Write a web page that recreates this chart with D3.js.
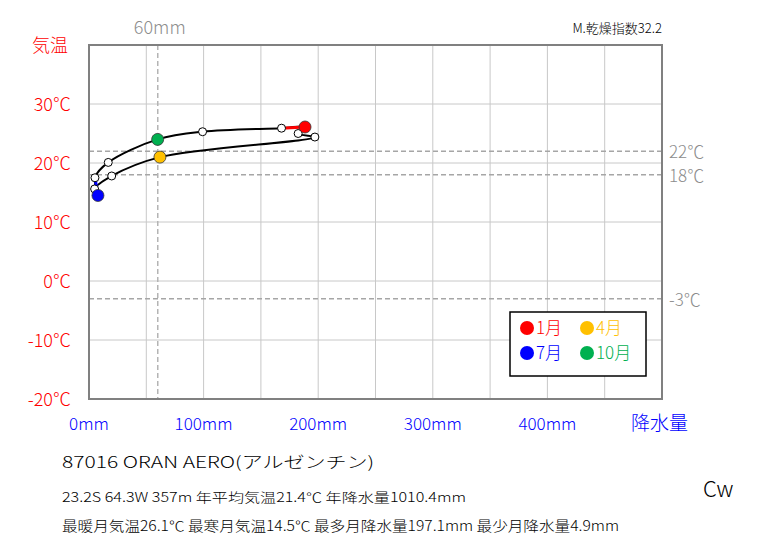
<!DOCTYPE html>
<html><head><meta charset="utf-8">
<script src="https://cdn.jsdelivr.net/npm/d3@7/dist/d3.min.js"></script>
<style>
html,body{margin:0;padding:0;background:#fff;}
svg{display:block;}
text{font-family:"Noto Sans CJK JP","Liberation Sans",sans-serif;font-weight:300;}
</style></head>
<body>
<svg id="c" width="763" height="545"></svg>
<script>
// ---- data ----
const months = ["1月","2月","3月","4月","5月","6月","7月","8月","9月","10月","11月","12月"];
const precip = [188.5, 182.5, 197.1, 61.9, 19.8, 4.9, 7.8, 5.2, 16.8, 59.9, 99.1, 168.0];
const temp   = [26.1, 25.0, 24.4, 21.0, 17.8, 15.6, 14.5, 17.5, 20.1, 24.0, 25.3, 25.9];
const xTicks = [0, 100, 200, 300, 400];
const xTickLabels = ["0mm","100mm","200mm","300mm","400mm"];
const xGrid = [50,100,150,200,250,300,350,400,450];
const yTicks = [30, 20, 10, 0, -10, -20];
const yTickLabels = ["30℃","20℃","10℃","0℃","-10℃","-20℃"];
const yGrid = [30, 20, 10, 0, -10];
const refTemps = [22, 18, -3];
const refTempLabels = ["22℃","18℃","-3℃"];
const refPrecip = 60;
const highlight = [{m:0,label:"1月",color:"#ff0000"},{m:3,label:"4月",color:"#ffc000"},
                   {m:6,label:"7月",color:"#0000ff"},{m:9,label:"10月",color:"#00b050"}];

const svg = d3.select("#c");
const x = d3.scaleLinear().domain([0,500]).range([89,662]);
const y = d3.scaleLinear().domain([-20,40]).range([399,45]);

// grid
svg.append("g").selectAll("line").data(xGrid).join("line")
  .attr("x1",d=>x(d)).attr("x2",d=>x(d)).attr("y1",y(40)).attr("y2",y(-20))
  .attr("stroke","#c8c8c8").attr("stroke-width",1);
svg.append("g").selectAll("line").data(yGrid).join("line")
  .attr("x1",x(0)).attr("x2",x(500)).attr("y1",d=>y(d)).attr("y2",d=>y(d))
  .attr("stroke","#c8c8c8").attr("stroke-width",1);

// reference dashed lines
svg.append("g").selectAll("line").data(refTemps).join("line")
  .attr("x1",x(0)).attr("x2",x(500)).attr("y1",d=>y(d)).attr("y2",d=>y(d))
  .attr("stroke","#a6a6a6").attr("stroke-width",1.5).attr("stroke-dasharray","5,3");
svg.append("line").attr("x1",x(refPrecip)).attr("x2",x(refPrecip)).attr("y1",y(40)).attr("y2",y(-20))
  .attr("stroke","#b4b4b4").attr("stroke-width",1.5).attr("stroke-dasharray","5,3");

// border
svg.append("rect").attr("x",x(0)).attr("y",y(40)).attr("width",x(500)-x(0)).attr("height",y(-20)-y(40))
  .attr("fill","none").attr("stroke","#808080").attr("stroke-width",2);

// labels
svg.append("text").attr("x",x(refPrecip)+2).attr("y",34).attr("text-anchor","middle")
  .attr("font-size",18).attr("fill","#8c8c8c").text(refPrecip+"mm");
svg.append("g").selectAll("text").data(refTemps).join("text")
  .attr("x",669).attr("y",d=>y(d)+7).attr("font-size",17).attr("fill","#8c8c8c")
  .text((d,i)=>refTempLabels[i]);
svg.append("g").selectAll("text").data(yTicks).join("text")
  .attr("x",71).attr("y",d=>y(d)+7).attr("text-anchor","end").attr("font-size",18).attr("fill","#ff0000")
  .text((d,i)=>yTickLabels[i]);
svg.append("text").attr("x",32).attr("y",52).attr("font-size",18).attr("fill","#ff0000").text("気温");
svg.append("g").selectAll("text").data(xTicks).join("text")
  .attr("x",d=>x(d)).attr("y",430).attr("text-anchor","middle").attr("font-size",17).attr("fill","#0000ff")
  .text((d,i)=>xTickLabels[i]);
svg.append("text").attr("x",631).attr("y",430).attr("font-size",19).attr("fill","#0000ff").text("降水量");
svg.append("text").attr("x",662).attr("y",33).attr("text-anchor","end").attr("font-size",13).attr("fill","#000").text("M.乾燥指数32.2");

// climograph
const pts = months.map((m,i)=>[x(precip[i]), y(temp[i])]);
svg.append("path").attr("d", d3.line().curve(d3.curveCatmullRomClosed)(pts))
  .attr("fill","none").attr("stroke","#000").attr("stroke-width",2);
// coloured segments
svg.append("line").attr("x1",pts[11][0]).attr("y1",pts[11][1]).attr("x2",pts[0][0]).attr("y2",pts[0][1])
  .attr("stroke","#ff0000").attr("stroke-width",3);
svg.append("line").attr("x1",pts[6][0]).attr("y1",pts[6][1]).attr("x2",pts[7][0]).attr("y2",pts[7][1])
  .attr("stroke","#0000ff").attr("stroke-width",3);

const hiIdx = highlight.map(h=>h.m);
svg.append("g").selectAll("circle").data(months.map((m,i)=>i).filter(i=>!hiIdx.includes(i))).join("circle")
  .attr("cx",i=>pts[i][0]).attr("cy",i=>pts[i][1]).attr("r",4)
  .attr("fill","#fff").attr("stroke","#000").attr("stroke-width",1);
svg.append("g").selectAll("circle").data(highlight).join("circle")
  .attr("cx",h=>pts[h.m][0]).attr("cy",h=>pts[h.m][1]).attr("r",6)
  .attr("fill",h=>h.color).attr("stroke","#333").attr("stroke-width",0.8);

// legend
svg.append("rect").attr("x",510).attr("y",312).attr("width",136).attr("height",64)
  .attr("fill","#fff").attr("stroke","#000").attr("stroke-width",1.5);
const lg = svg.append("g").selectAll("g").data(highlight).join("g")
  .attr("transform",(h,i)=>`translate(${527+(i%2)*60},${328+Math.floor(i/2)*25})`);
lg.append("circle").attr("r",7).attr("fill",h=>h.color);
lg.append("text").attr("x",9).attr("y",6).attr("font-size",17).attr("fill",h=>h.color).text(h=>h.label);

// footer
svg.append("text").attr("x",62).attr("y",468).attr("font-size",16).attr("fill","#000")
  .attr("textLength",312).attr("lengthAdjust","spacingAndGlyphs")
  .text("87016  ORAN AERO(アルゼンチン)");
svg.append("text").attr("x",62).attr("y",502).attr("font-size",13).attr("fill","#000")
  .attr("textLength",404).attr("lengthAdjust","spacingAndGlyphs")
  .text("23.2S  64.3W 357m  年平均気温21.4℃ 年降水量1010.4mm");
svg.append("text").attr("x",62).attr("y",531).attr("font-size",14).attr("fill","#000")
  .attr("textLength",557).attr("lengthAdjust","spacingAndGlyphs")
  .text("最暖月気温26.1℃ 最寒月気温14.5℃ 最多月降水量197.1mm 最少月降水量4.9mm");
svg.append("text").attr("x",703).attr("y",497).attr("font-size",22).attr("fill","#000")
  .attr("font-family","Liberation Sans, Arial, sans-serif").attr("font-weight",400).text("Cw");
</script>
</body></html>
